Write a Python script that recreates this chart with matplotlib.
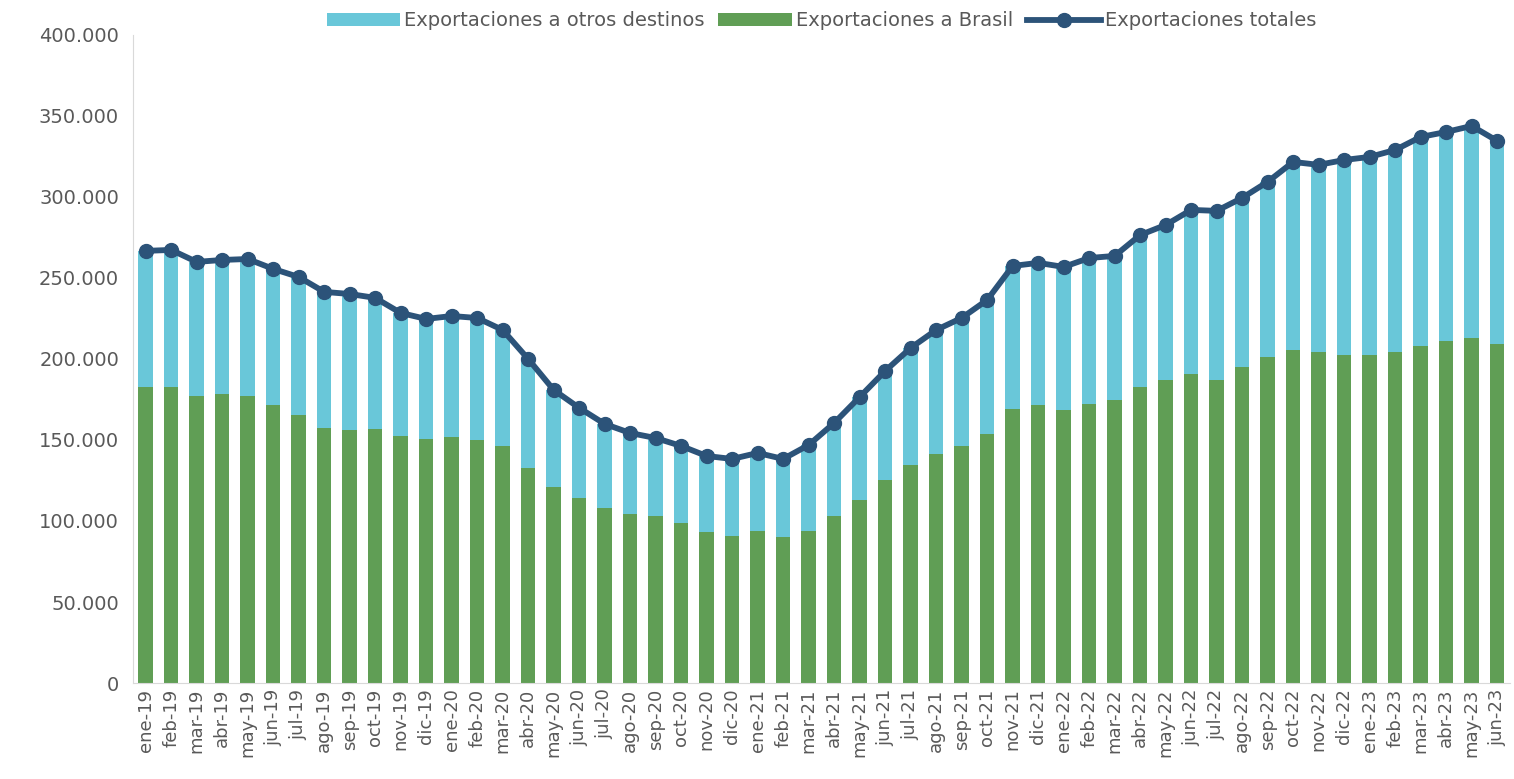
import matplotlib
matplotlib.use("Agg")
import matplotlib.pyplot as plt
from matplotlib.ticker import FuncFormatter

meses = ["ene", "feb", "mar", "abr", "may", "jun", "jul", "ago", "sep", "oct", "nov", "dic"]
labels = [f"{m}-{y}" for y in ["19", "20", "21", "22"] for m in meses] + \
         [f"{m}-23" for m in meses[:6]]

# values in thousands
brasil = [182.7, 182.7, 177.2, 178.4, 177.2, 171.6, 165.4, 157.4, 156.2, 156.8, 152.5, 150.6,
          151.9, 150.0, 146.3, 132.7, 121.0, 114.2, 108.0, 104.3, 103.1, 98.8, 93.2, 90.7,
          93.8, 90.1, 93.8, 103.1, 113.0, 125.3, 134.6, 141.4, 146.3, 153.7, 169.1, 171.6,
          168.5, 172.2, 174.7, 182.7, 187.0, 190.7, 187.0, 195.0, 201.2, 205.6, 204.3, 202.5,
          202.5, 204.3, 208.0, 211.1, 213.0, 209.3]
totales = [266.7, 267.3, 259.9, 261.1, 261.7, 255.6, 250.6, 241.4, 240.1, 237.7, 228.4, 224.7,
           226.5, 225.3, 217.9, 200.0, 180.9, 169.8, 159.9, 154.3, 151.2, 146.3, 140.1, 138.3,
           142.0, 138.3, 146.9, 160.5, 176.5, 192.6, 206.8, 217.9, 225.3, 236.4, 257.4, 259.3,
           256.8, 262.3, 263.6, 276.5, 282.7, 292.0, 291.4, 299.4, 309.3, 321.6, 319.8, 322.8,
           324.7, 329.0, 337.0, 340.1, 343.8, 334.6]

brasil = [v * 1000 for v in brasil]
totales = [v * 1000 for v in totales]
otros = [t - b for t, b in zip(totales, brasil)]
x = list(range(len(labels)))

fig = plt.figure(figsize=(15.14, 7.79), dpi=100)
ax = fig.add_axes([0.0878, 0.1232, 0.9095, 0.832])

b1 = ax.bar(x, brasil, width=0.57, color="#609E55", label="Exportaciones a Brasil", zorder=2)
b2 = ax.bar(x, otros, width=0.57, bottom=brasil, color="#69C7D9",
            label="Exportaciones a otros destinos", zorder=2)
ln, = ax.plot(x, totales, color="#2C5379", lw=4.2, marker="o", ms=10,
              label="Exportaciones totales", zorder=3)

ax.set_xlim(-0.5, len(labels) - 0.5)
ax.set_ylim(0, 400000)
ax.set_yticks(range(0, 400001, 50000))
ax.yaxis.set_major_formatter(FuncFormatter(lambda v, p: f"{int(v):,}".replace(",", ".")))
ax.set_xticks(x)
ax.set_xticklabels(labels, rotation=90)
ax.tick_params(axis="y", length=0, labelsize=14, labelcolor="#595959", pad=10)
ax.tick_params(axis="x", length=0, labelsize=13, labelcolor="#595959", pad=4)

for side in ["top", "right"]:
    ax.spines[side].set_visible(False)
ax.spines["left"].set_color("#D9D9D9")
ax.spines["bottom"].set_color("#D9D9D9")

ax.legend([b2, b1, ln], [b2.get_label(), b1.get_label(), ln.get_label()], loc="lower center",
          bbox_to_anchor=(0.5, 0.995), ncol=3, frameon=False, fontsize=14,
          labelcolor="#595959", handlelength=3.8, handletextpad=0.2, columnspacing=0.7,
          borderaxespad=0)

fig.savefig("out.png", dpi=100)
